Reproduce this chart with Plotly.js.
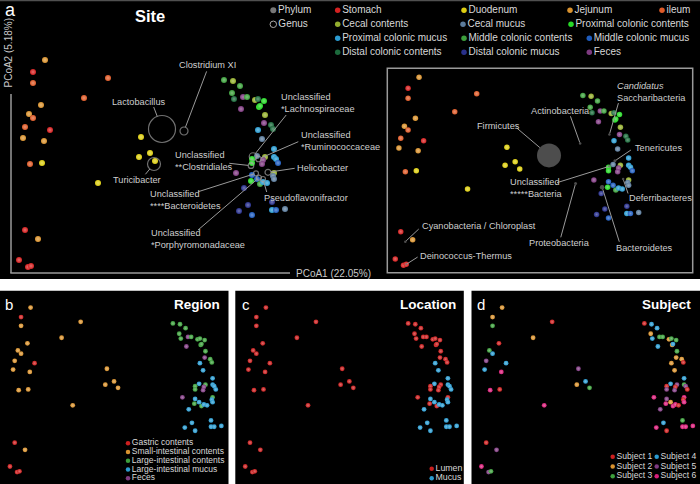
<!DOCTYPE html>
<html>
<head>
<meta charset="utf-8">
<script src="https://cdn.plot.ly/plotly-3.0.1.min.js"></script>
<style>
  html, body { margin: 0; padding: 0; background: #fff; }
  #gd { width: 700px; height: 484px; }
</style>
</head>
<body>
<div id="gd"></div>
<script>
// sampling sites, in the order of the legend (row by row)
let sites = ['Stomach', 'Duodenum', 'Jejunum', 'ileum', 'Cecal contents', 'Cecal mucus',
  'Proximal colonic contents', 'Proximal colonic mucus', 'Middle colonic contents',
  'Middle colonic mucus', 'Distal colonic contents', 'Distal colonic mucus', 'Feces'];
let siteCodes = ['ST', 'DU', 'JE', 'IL', 'CC', 'CM', 'PCC', 'PCM', 'MCC', 'MCM', 'DCC', 'DCM', 'FE'];
let siteColors = ['#d42121', '#dccd12', '#d8922f', '#dd5b29', '#93ad2e', '#5b7b9b', '#27d827',
  '#2b9bd0', '#3c9e3c', '#1f5cbd', '#1c6a3c', '#28308b', '#7e3a80'];
let siteRegion = [0, 1, 1, 1, 2, 3, 2, 3, 2, 3, 2, 3, 4];
let siteLocation = [0, 0, 0, 0, 0, 1, 0, 1, 0, 1, 0, 1, 0];

let regions = ['Gastric contents', 'Small-intestinal contents', 'Large-intestinal contents',
  'Large-intestinal mucus', 'Feces'];
let regionColors = ['#cc1f1f', '#d8922f', '#3c9e3c', '#2b9bd0', '#7e3a80'];
let locations = ['Lumen', 'Mucus'];
let locationColors = ['#c81e1e', '#2b9bd0'];
let subjects = ['Subject 1', 'Subject 2', 'Subject 3', 'Subject 4', 'Subject 5', 'Subject 6'];
let subjectColors = ['#cc1f1f', '#d8922f', '#3c9e3c', '#2b9bd0', '#7e3a80', '#d81e78'];

// samples: PCoA scores, site, subject
let sampleSite = [
  'ST', 'ST', 'ST', 'ST', 'ST', 'ST',
  'DU', 'DU', 'DU', 'DU', 'DU', 'DU',
  'JE', 'JE', 'JE', 'JE', 'JE', 'JE',
  'IL', 'IL', 'IL', 'IL', 'IL', 'IL',
  'MCC', 'CC', 'MCC', 'MCC', 'DCC', 'FE', 'MCC', 'CC', 'DCC', 'PCC',
  'PCC', 'PCC', 'FE', 'CC', 'FE', 'DCC', 'DCC', 'PCM', 'CM', 'PCM',
  'PCM', 'PCM', 'MCM', 'CM', 'CC', 'FE', 'FE', 'PCC', 'PCC', 'FE',
  'MCM', 'MCM', 'PCC', 'MCC', 'PCM', 'PCM', 'CC', 'CM', 'CM', 'DCM',
  'DCM', 'DCM', 'DCM', 'MCM', 'PCM', 'MCM', 'CM'];
let sampleSubject = [
  2, 4, 1, 6, 5, 3,
  1, 6, 5, 4, 2, 3,
  2, 1, 3, 4, 6, 5,
  3, 1, 2, 4, 5, 6,
  1, 4, 4, 2, 4, 3, 3, 2, 3, 3,
  2, 4, 4, 3, 2, 2, 1, 2, 2, 4,
  3, 5, 1, 4, 5, 1, 5, 1, 5, 6,
  5, 2, 6, 6, 6, 1, 6, 1, 6, 5,
  3, 4, 6, 1, 6, 6, 6];
let pc1 = [
  -0.117, -0.100, -0.125, -0.131, -0.122, -0.119,
  -0.108, -0.052, -0.009, 0.000, -0.011, 0.005,
  -0.105, -0.109, -0.121, -0.127, -0.106, -0.112,
  -0.117, -0.042, -0.066, -0.117, -0.125, -0.120,
  0.074, 0.083, 0.090, 0.082, 0.084, 0.093, 0.097, 0.105, 0.108, 0.114,
  0.109, 0.110, 0.091, 0.115, 0.114, 0.121, 0.123, 0.108, 0.112, 0.124,
  0.124, 0.126, 0.128, 0.107, 0.115, 0.113, 0.112, 0.102, 0.102, 0.086,
  0.102, 0.107, 0.101, 0.110, 0.113, 0.117, 0.124, 0.123, 0.124, 0.094,
  0.122, 0.098, 0.089, 0.102, 0.122, 0.126, 0.135];
let pc2 = [
  0.098, 0.040, -0.060, -0.090, -0.097, -0.096,
  0.007, -0.013, 0.033, 0.017, 0.013, 0.009,
  0.110, 0.065, 0.056, 0.032, 0.029, -0.069,
  0.087, 0.092, 0.072, 0.052, 0.043, 0.006,
  0.090, 0.089, 0.084, 0.077, 0.071, 0.073, 0.073, 0.070, 0.071, 0.069,
  0.063, 0.064, 0.061, 0.055, 0.047, 0.045, 0.041, 0.040, 0.031, 0.021,
  0.013, 0.011, 0.007, 0.014, 0.013, 0.010, 0.006, 0.011, 0.007, -0.003,
  -0.005, -0.009, -0.011, -0.014, -0.012, -0.013, -0.003, -0.006, -0.009, -0.018,
  -0.032, -0.035, -0.041, -0.045, -0.040, -0.040, -0.039];

// genus loadings (open circles) in panel a
let genera = ['Lactobacillus', 'Clostridium XI', 'Turicibacter', 'Unclassified<br>*Lachnospiraceae',
  'Unclassified<br>*Ruminococcaceae', 'Unclassified<br>**Clostridiales', 'Helicobacter',
  'Unclassified<br>****Bacteroidetes', 'Unclassified<br>*Porphyromonadaceae', 'Pseudoflavonifractor'];
let genusPc1 = [0.012, 0.034, 0.004, 0.103, 0.1085, 0.101, 0.118, 0.106, 0.109, 0.113];
let genusPc2 = [0.041, 0.039, 0.006, 0.0135, 0.011, 0.0043, -0.0023, -0.0033, -0.0077, -0.009];
let genusSize = [27, 8, 13, 7.5, 5.5, 5.5, 6, 5, 5, 5];

// phylum loadings (filled circles) in the inset
let phyla = ['Firmicutes', 'Actinobacteria', '<i>Candidatus</i><br>Saccharibacteria', 'Tenericutes',
  'Unclassified<br>*****Bacteria', 'Proteobacteria', 'Bacteroidetes', 'Deferribacteres',
  'Cyanobacteria / Chloroplast', 'Deinococcus-Thermus'];
let phylumPc1 = [0.037, 0.071, 0.103, 0.109, 0.103, 0.066, 0.095, 0.118, -0.120, -0.119];
let phylumPc2 = [0.024, 0.037, 0.047, 0.018, 0.012, -0.007, -0.011, -0.002, -0.071, -0.096];
let phylumSize = [24, 2.5, 2.5, 3, 3, 3, 4.5, 2.5, 2.5, 2];

// label placement, pixels from the point: [text dx, text dy, leader dx, leader dy]
let genusLabelPos = [[-52, -27, -8.3, -22], [-7.4, -65.6, 22.6, -59.6], [-43.3, 16, -8.6, 10.3],
  [26.2, -53.3, 33.2, -41.5], [40.8, -18.5, 39.8, -17.3], [-78.3, -5.2, -21.7, -2.4],
  [27.3, -4, 26.7, -4], [-108, 26.9, -57.7, 18.4], [-110.3, 61.1, -61, 52.3], [-0.7, 18.7, 3.7, 13]];
let phylumLabelPos = [[-74, -29.4, -32.3, -27.4], [-51.4, -32.3, -9.7, -27.3], [5.7, -42.5, 9, -31.4],
  [18.4, -13.1, 16, -10.8], [-101.1, 21.7, -52.4, 16.4], [-48.2, 59.2, -14.8, 53.8],
  [11.9, 60.6, 17.2, 54.6], [4.2, 19.3, 4.9, 14.5], [14.7, -15.6, 13.4, -12.6], [11.4, -8.6, 11.4, -7.3]];

const FONT = 'Liberation Sans, Arial, sans-serif';
const LABEL = '#cfcfcf';
const W = 700, H = 484;

function lighten(hex, k) {
  let n = parseInt(hex.slice(1), 16);
  let c = [n >> 16, (n >> 8) & 255, n & 255].map(v => Math.round(v + (255 - v) * k));
  return 'rgb(' + c.join(',') + ')';
}
let siteIdx = sampleSite.map(c => siteCodes.indexOf(c));

function samples(xa, ya, colors, size) {
  return {
    x: pc1, y: pc2, xaxis: xa, yaxis: ya, type: 'scatter', mode: 'markers', cliponaxis: false,
    hoverinfo: 'skip', showlegend: false,
    marker: {size: size, color: colors, line: {width: 0},
      gradient: {type: 'radial', color: colors.map(c => lighten(c, 0.35))}}
  };
}

let data = [
  samples('x', 'y', siteIdx.map(i => siteColors[i]), 6),
  {x: genusPc1, y: genusPc2, xaxis: 'x', yaxis: 'y', type: 'scatter', mode: 'markers', cliponaxis: false,
    showlegend: false, hoverinfo: 'skip',
    marker: {size: genusSize, color: 'rgba(0,0,0,0)', line: {color: '#a0a0a0', width: 1.2}}},
  samples('x2', 'y2', siteIdx.map(i => siteColors[i]), 5.5),
  {x: phylumPc1, y: phylumPc2, xaxis: 'x2', yaxis: 'y2', type: 'scatter', mode: 'markers', cliponaxis: false,
    showlegend: false, hoverinfo: 'skip',
    marker: {size: phylumSize, color: '#6e6e6e', line: {width: 0}}},
  samples('x3', 'y3', siteIdx.map(i => regionColors[siteRegion[i]]), 4.8),
  samples('x4', 'y4', siteIdx.map(i => locationColors[siteLocation[i]]), 4.8),
  samples('x5', 'y5', sampleSubject.map(s => subjectColors[s - 1]), 4.8)
];

// keys, drawn in pixel coordinates on an overlay axis pair
let keyRows = [10.2, 24.3, 38.3, 52.3];
// column x of the site key, per row
let siteKeyCols = [[337.7, 464, 570, 662], [337.7, 463, 571], [337.7, 464, 589.3], [337.7, 464, 589.3]];
let siteKeyRow = sites.map((s, i) => i < 4 ? 0 : 1 + Math.floor((i - 4) / 3));
let siteKeyCol = sites.map((s, i) => i < 4 ? i : (i - 4) % 3);

function key(x, y, text, colors, size, fontSize, extra) {
  return Object.assign({
    x: x, y: y, text: text, xaxis: 'x6', yaxis: 'y6', type: 'scatter', mode: 'markers+text',
    textposition: 'middle right', cliponaxis: false, showlegend: false, hoverinfo: 'skip',
    textfont: {family: FONT, size: fontSize, color: '#d8d8d8'},
    marker: {size: size, color: colors, line: {width: 0}}
  }, extra || {});
}
data.push(key([273.3], [keyRows[0]], ['Phylum'], ['#777'], 6, 10));
data.push(key([273.3], [keyRows[1]], ['Genus'], ['rgba(0,0,0,0)'], 6.5, 10,
  {marker: {size: 6.5, color: 'rgba(0,0,0,0)', line: {color: '#aaa', width: 1}}}));
data.push(key(
  sites.map((s, i) => siteKeyCols[siteKeyRow[i]][siteKeyCol[i]]),
  sites.map((s, i) => keyRows[siteKeyRow[i]]),
  sites, siteColors, 5.5, 10));
data.push(key(regions.map(() => 128), regions.map((r, i) => 443.3 + 8.75 * i),
  regions, regionColors, 4.5, 8.5));
data.push(key(locations.map(() => 431.7), locations.map((r, i) => 468.7 + 9.6 * i),
  locations, locationColors, 4.5, 8.8));
data.push(key(subjects.map((s, i) => i < 3 ? 612.7 : 656.7), subjects.map((s, i) => 456.7 + 9.8 * (i % 3)),
  subjects, subjectColors, 4.5, 8.6));

function hidden(range, domain) {
  return {range: range, domain: domain, visible: false, fixedrange: true};
}
let py = v => 1 - v / H;

let shapes = [
  // panel backgrounds
  {type: 'rect', xref: 'paper', yref: 'paper', x0: 0, x1: 1, y0: py(279), y1: 1, layer: 'below',
    fillcolor: '#000', line: {width: 0}},
  {type: 'rect', xref: 'paper', yref: 'paper', x0: 0, x1: 228.5 / W, y0: 0, y1: py(290.7), layer: 'below',
    fillcolor: '#000', line: {width: 0}},
  {type: 'rect', xref: 'paper', yref: 'paper', x0: 235.3 / W, x1: 463.8 / W, y0: 0, y1: py(290.7), layer: 'below',
    fillcolor: '#000', line: {width: 0}},
  {type: 'rect', xref: 'paper', yref: 'paper', x0: 471.5 / W, x1: 1, y0: 0, y1: py(290.7), layer: 'below',
    fillcolor: '#000', line: {width: 0}},
  {type: 'line', xref: 'paper', yref: 'paper', x0: 0, x1: 1, y0: py(0.5), y1: py(0.5),
    line: {color: '#505050', width: 1.5}},
  // axis lines of panel a
  {type: 'line', xref: 'paper', yref: 'paper', x0: 11 / W, x1: 11 / W, y0: py(94), y1: py(273),
    line: {color: '#9a9a9a', width: 1.5}},
  {type: 'line', xref: 'paper', yref: 'paper', x0: 10.3 / W, x1: 290 / W, y0: py(273), y1: py(273),
    line: {color: '#9a9a9a', width: 1.5}},
  // inset frame
  {type: 'rect', xref: 'paper', yref: 'paper', x0: 387.3 / W, x1: 692.7 / W, y0: py(272.7), y1: py(68.3),
    line: {color: '#9a9a9a', width: 1.5}}
];

function leader(xa, ya, px, pyv, from, r) {
  let k = r / Math.hypot(from[0], from[1]);
  return {type: 'line', xref: xa, yref: ya, xsizemode: 'pixel', ysizemode: 'pixel', xanchor: px, yanchor: pyv,
    x0: from[0], y0: -from[1], x1: from[0] * k, y1: -from[1] * k, line: {color: '#9a9a9a', width: 1}};
}
function label(xa, ya, px, pyv, text, dx, dy) {
  return {xref: xa, yref: ya, x: px, y: pyv, xshift: dx, yshift: -dy, text: text, showarrow: false,
    xanchor: 'left', yanchor: 'middle', align: 'left', font: {family: FONT, size: 9.2, color: LABEL}};
}

let annotations = [];
genera.forEach((g, i) => {
  let p = genusLabelPos[i];
  shapes.push(leader('x', 'y', genusPc1[i], genusPc2[i], [p[2], p[3]], genusSize[i] / 2));
  annotations.push(label('x', 'y', genusPc1[i], genusPc2[i], g, p[0], p[1]));
});
phyla.forEach((g, i) => {
  let p = phylumLabelPos[i];
  shapes.push(leader('x2', 'y2', phylumPc1[i], phylumPc2[i], [p[2], p[3]], phylumSize[i] / 2));
  annotations.push(label('x2', 'y2', phylumPc1[i], phylumPc2[i], g, p[0], p[1]));
});

function paperText(text, x, y, opts) {
  return Object.assign({xref: 'paper', yref: 'paper', x: x / W, y: py(y), text: text, showarrow: false,
    xanchor: 'left', yanchor: 'middle', font: {family: FONT, size: 10, color: '#fff'}}, opts || {});
}
annotations.push(
  paperText('a', 3, 10, {font: {family: FONT, size: 18, color: '#fff'}}),
  paperText('<b>Site</b>', 150, 16.5, {xanchor: 'center', font: {family: FONT, size: 16.5, color: '#fff'}}),
  paperText('PCoA2 (5.18%)', 8, 53.5, {xanchor: 'center', textangle: -90,
    font: {family: FONT, size: 10, color: '#c8c8c8'}}),
  paperText('PCoA1 (22.05%)', 294, 273, {font: {family: FONT, size: 10, color: '#c8c8c8'}}),
  paperText('b', 2.5, 304, {font: {family: FONT, size: 15, color: '#fff'}}),
  paperText('<b>Region</b>', 221.5, 304.5, {xanchor: 'right', font: {family: FONT, size: 13.5, color: '#fff'}}),
  paperText('c', 239.5, 304, {font: {family: FONT, size: 15, color: '#fff'}}),
  paperText('<b>Location</b>', 457.7, 304.5, {xanchor: 'right', font: {family: FONT, size: 13.5, color: '#fff'}}),
  paperText('d', 475, 304, {font: {family: FONT, size: 15, color: '#fff'}}),
  paperText('<b>Subject</b>', 693, 304.5, {xanchor: 'right', font: {family: FONT, size: 13.5, color: '#fff'}})
);

let layout = {
  width: W, height: H,
  margin: {l: 0, r: 0, t: 0, b: 0, pad: 0},
  paper_bgcolor: '#fff',
  plot_bgcolor: 'rgba(0,0,0,0)',
  showlegend: false,
  font: {family: FONT},
  // panel a, main biplot (genus level)
  xaxis: hidden([-0.150, 0.550], [0, 1]),
  yaxis: hidden([-0.109, 0.170], [py(279), 1]),
  // panel a, inset (phylum level)
  xaxis2: hidden([-0.1397, 0.1940], [387.3 / W, 692.7 / W]),
  yaxis2: hidden([-0.1052, 0.1199], [py(272.7), py(68.3)]),
  // panels b, c, d
  xaxis3: hidden([-0.1435, 0.1440], [0, 228.5 / W]),
  yaxis3: hidden([-0.1120, 0.1308], [0, py(291)]),
  xaxis4: hidden([-0.1435, 0.1440], [235.3 / W, 463.8 / W]),
  yaxis4: hidden([-0.1120, 0.1308], [0, py(291)]),
  xaxis5: hidden([-0.1435, 0.1440], [471.5 / W, 1]),
  yaxis5: hidden([-0.1120, 0.1308], [0, py(291)]),
  // pixel overlay for the keys
  xaxis6: hidden([0, W], [0, 1]),
  yaxis6: hidden([H, 0], [0, 1]),
  shapes: shapes,
  annotations: annotations
};

Plotly.newPlot('gd', data, layout, {staticPlot: true, displayModeBar: false});
</script>
</body>
</html>
